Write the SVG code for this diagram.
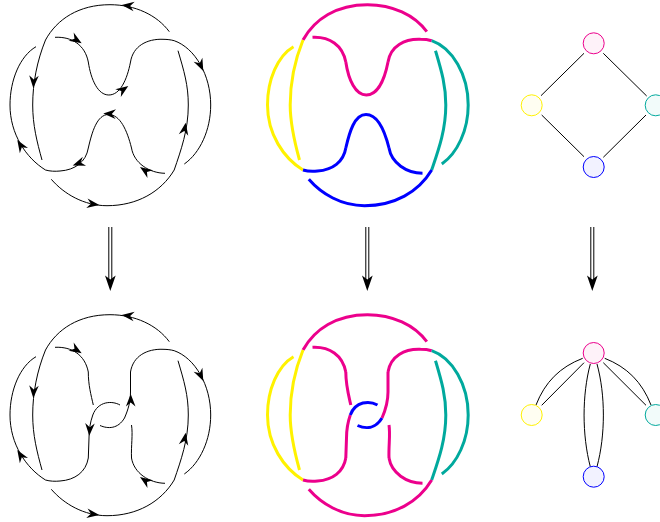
<svg xmlns="http://www.w3.org/2000/svg" width="660" height="522" viewBox="0 0 660 522">
<style>
.k{fill:none;stroke:#000;stroke-width:1}
.c{fill:none;stroke-width:3}
.p{stroke:#ec008c}.y{stroke:#fff200}.t{stroke:#00a99d}.b{stroke:#0000ff}
.n{stroke-width:1}
.e{fill:none;stroke:#000;stroke-width:1}
</style>
<defs>
<path id="ah" d="M0 0L-12.500 -4.800L-8.500 0L-12.500 4.800Z" fill="#000"/>
<path id="top" d="M169.300 31.700C157 15 135 4.700 110 4.700C79 4.700 57 19 45.500 40"/>
<path id="yi" d="M45.500 40C37 61 32.700 83 32.700 105C32.700 125 37 142 42 160"/>
<path id="yo" d="M36 46.700C20 56 10 80 10 105C10 134 26 158 45.500 170"/>
<path id="ll" d="M45.500 170C50 171.300 55 171.500 60 171C75 170 86 162 88.300 148"/>
<path id="lr" d="M131.500 148C134 163 149 173 165 173.300"/>
<path id="bu" d="M88.300 148C92 132 97 114.500 108.500 114.500C120 114.500 127 130 131.500 148"/>
<path id="tl" d="M55 37.300C72 36.500 85 45 88.300 62"/>
<path id="tr" d="M130.500 62C133 46 147 38.700 163 39.300C167 39.300 171 39.800 174.200 40.700"/>
<path id="tb" d="M88.300 62C91 80 98 95 108.800 95C120 95 127 80 130.500 62"/>
<path id="to" d="M174.200 40.700C195 48 210.700 75 210.700 105C210.700 130 200 153 184.300 164"/>
<path id="ti" d="M178 50.700C184 71 188.300 85 188.300 105C188.300 130 181 150 174.200 170"/>
<path id="bot" d="M51.300 179.300C64 194 84 205.700 107 205.700C137 205.700 161 192 174.200 170"/>
<path id="l1" d="M88.300 62C88.300 75 91 85 93.300 95"/>
<path id="l2" d="M92.800 105C90 113 89 120 89 128L88.300 148"/>
<path id="b1" d="M120 95C112 90.500 98 91 92.800 105"/>
<path id="b2" d="M100 115.500C108 119 118 119 124.500 108"/>
<path id="r1" d="M124.500 108C128 100 130.500 92 130.500 82L130.500 62"/>
<path id="r2" d="M131.500 115C133 125 131 135 131.500 148"/>
</defs>

<g id="connectors">
<g id="knot-top" class="k">
<use href="#top"/><use href="#yi"/><use href="#yo"/><use href="#ll"/><use href="#lr"/><use href="#bu"/><use href="#tl"/><use href="#tr"/><use href="#tb"/><use href="#to"/><use href="#ti"/><use href="#bot"/>
</g>
<g id="knot-top-arrows">
<use href="#ah" transform="translate(121.700,4.900) rotate(187)"/>
<use href="#ah" transform="translate(33.300,88) rotate(93)"/>
<use href="#ah" transform="translate(17.300,140) rotate(238)"/>
<use href="#ah" transform="translate(72.700,165.500) rotate(160)"/>
<use href="#ah" transform="translate(103.300,113.500) rotate(183)"/>
<use href="#ah" transform="translate(140,167) rotate(215)"/>
<use href="#ah" transform="translate(81.700,43.300) rotate(32)"/>
<use href="#ah" transform="translate(128.300,86) rotate(-35)"/>
<use href="#ah" transform="translate(203.300,71) rotate(65)"/>
<use href="#ah" transform="translate(185.700,122.700) rotate(-80)"/>
<use href="#ah" transform="translate(99.300,205) rotate(8)"/>
</g>
<g id="knot-top-colour" class="c" transform="translate(257.500,0)">
<use href="#top" class="p"/><use href="#yi" class="y"/><use href="#yo" class="y"/><use href="#ll" class="b"/><use href="#lr" class="b"/><use href="#bu" class="b"/><use href="#tl" class="p"/><use href="#tr" class="p"/><use href="#tb" class="p"/><use href="#to" class="t"/><use href="#ti" class="t"/><use href="#bot" class="b"/>
</g>
<g id="knot-bottom" class="k" transform="translate(0,310)">
<use href="#top"/><use href="#yi"/><use href="#yo"/><use href="#ll"/><use href="#lr"/><use href="#tl"/><use href="#tr"/><use href="#to"/><use href="#ti"/><use href="#bot"/><use href="#l1"/><use href="#l2"/><use href="#b1"/><use href="#b2"/><use href="#r1"/><use href="#r2"/>
</g>
<g id="knot-bottom-arrows" transform="translate(0,310)">
<use href="#ah" transform="translate(121.700,4.900) rotate(187)"/>
<use href="#ah" transform="translate(33.300,88) rotate(93)"/>
<use href="#ah" transform="translate(17.300,140) rotate(238)"/>
<use href="#ah" transform="translate(140,167) rotate(215)"/>
<use href="#ah" transform="translate(81.700,43.300) rotate(32)"/>
<use href="#ah" transform="translate(130.700,84) rotate(-90)"/>
<use href="#ah" transform="translate(89.300,125.700) rotate(93)"/>
<use href="#ah" transform="translate(203.300,71) rotate(65)"/>
<use href="#ah" transform="translate(185.700,122.700) rotate(-80)"/>
<use href="#ah" transform="translate(99.300,205) rotate(8)"/>
</g>
<g id="knot-bottom-colour" class="c" transform="translate(257.500,310)">
<use href="#top" class="p"/><use href="#yi" class="y"/><use href="#yo" class="y"/><use href="#ll" class="p"/><use href="#lr" class="p"/><use href="#tl" class="p"/><use href="#tr" class="p"/><use href="#to" class="t"/><use href="#ti" class="t"/><use href="#bot" class="p"/><use href="#l1" class="p"/><use href="#l2" class="p"/><use href="#b1" class="b"/><use href="#b2" class="b"/><use href="#r1" class="p"/><use href="#r2" class="p"/>
</g>
<g id="down-arrows" class="k">
<path d="M108.800 227V280M111.800 227V280M365.800 227V280M368.800 227V280M590.800 227V280M593.800 227V280"/>
</g>
<g id="down-arrow-heads">
<path d="M110.300 291L105 275.500L110.300 279.500L115.700 275.500Z"/>
<path d="M367.300 291L362 275.500L367.300 279.500L372.700 275.500Z"/>
<path d="M592.300 291L587 275.500L592.300 279.500L597.700 275.500Z"/>
</g>
<g id="graph-edges" class="e">
<path d="M584 53.300L541 95.700M603.300 53.300L646.700 96M541.700 115L584 156.700M646 115L603.300 157.300"/>
<path d="M584 362.700L541.700 405.300M582.700 358.300C560 367 545 382 536 405M603.300 362.700L646 405.300M604.700 358.300C627 367 642 382 651 405"/>
<path d="M590.300 364C582 395 582 435 590.300 466.700M597 364C605.500 395 605.500 435 597 466.700"/>
</g>
</g>

<g id="node-a1"><circle class="n" cx="593.700" cy="43.300" r="10.500" fill="#fef2f9" stroke="#ec008c"/></g>
<g id="node-b1"><circle class="n" cx="531.700" cy="105.300" r="10.500" fill="#fffef2" stroke="#fff200"/></g>
<g id="node-c1"><circle class="n" cx="655.700" cy="105.300" r="10.500" fill="#f2fbfa" stroke="#00a99d"/></g>
<g id="node-d1"><circle class="n" cx="593.700" cy="167" r="10.500" fill="#f2f2ff" stroke="#0000ff"/></g>
<g id="node-a2"><circle class="n" cx="593.700" cy="353" r="10.500" fill="#fef2f9" stroke="#ec008c"/></g>
<g id="node-b2"><circle class="n" cx="531.700" cy="415" r="10.500" fill="#fffef2" stroke="#fff200"/></g>
<g id="node-c2"><circle class="n" cx="655.700" cy="415" r="10.500" fill="#f2fbfa" stroke="#00a99d"/></g>
<g id="node-d2"><circle class="n" cx="593.700" cy="476.700" r="10.500" fill="#f2f2ff" stroke="#0000ff"/></g>
</svg>
